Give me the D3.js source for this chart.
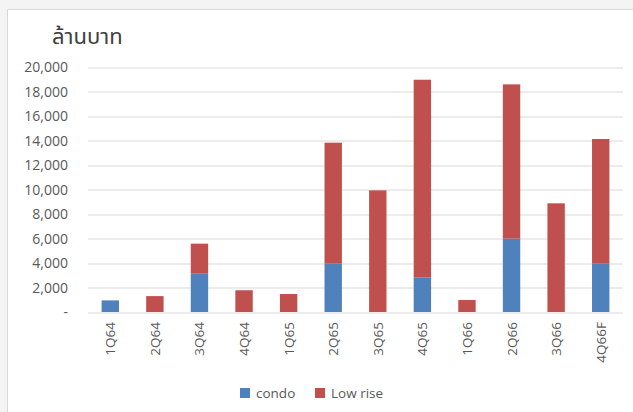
<!DOCTYPE html>
<html>
<head>
<meta charset="utf-8">
<script src="https://cdn.jsdelivr.net/npm/d3@7"></script>
<style>
  body { margin: 0; background: #f4f4f4; }
  svg { display: block; font-family: "Noto Sans Thai", "Noto Sans", "Open Sans", sans-serif; }
</style>
</head>
<body>
<div id="chart"></div>
<script>
const quarters = ["1Q64", "2Q64", "3Q64", "4Q64", "1Q65", "2Q65", "3Q65", "4Q65", "1Q66", "2Q66", "3Q66", "4Q66F"]
const condo   = [950, 0, 3130, 0, 0, 3950, 0, 2810, 0, 6000, 0, 3950]
const lowRise = [0, 1300, 2460, 1780, 1470, 9900, 9950, 16190, 980, 12620, 8890, 10200]
const yTicks = [0, 2000, 4000, 6000, 8000, 10000, 12000, 14000, 16000, 18000, 20000]
const seriesNames = ["condo", "Low rise"]
const colors = ["#4f81bd", "#c0504d"]

const width = 633
const height = 412
const margin = { top: 67.5, right: 10, bottom: 100, left: 88 }
const plotW = 623 - margin.left
const plotH = 312 - margin.top

let svg = d3.select("#chart")
    .append("svg")
    .attr("width", width)
    .attr("height", height)

// chart frame
svg.append("rect")
    .attr("x", 7.5)
    .attr("y", 9.5)
    .attr("width", width)
    .attr("height", height)
    .attr("fill", "#fff")
    .attr("stroke", "#d9d9d9")

svg.append("text")
    .attr("x", 52)
    .attr("y", 44)
    .attr("font-size", 22)
    .attr("fill", "#404040")
    .text("ล้านบาท")

let g = svg.append("g")
    .attr("transform", "translate(" + margin.left + "," + margin.top + ")")

const x = d3.scaleBand()
    .domain(quarters)
    .range([0, plotW])
    .paddingInner(0.61)
    .paddingOuter(0.305)

const y = d3.scaleLinear()
    .domain([0, 20000])
    .range([plotH, 0])

// gridlines
g.append("g")
    .selectAll("line")
    .data(yTicks)
    .join("line")
    .attr("x1", 0)
    .attr("x2", plotW)
    .attr("y1", d => Math.round(y(d)) + 0.5)
    .attr("y2", d => Math.round(y(d)) + 0.5)
    .attr("stroke", "#d9d9d9")

const yAxis = g.append("g")
    .call(d3.axisLeft(y)
        .tickValues(yTicks)
        .tickSize(0)
        .tickPadding(20)
        .tickFormat(d => d === 0 ? "-" : d3.format(",")(d)))
yAxis.select(".domain").remove()
yAxis.selectAll("text")
    .attr("font-size", 14)
    .attr("fill", "#595959")
    .style("font-family", "'Open Sans', sans-serif")

const stacked = d3.stack()
    .keys([0, 1])
    .value((d, k) => k === 0 ? condo[d] : lowRise[d])(quarters.map((q, i) => i))

g.selectAll("g.series")
    .data(stacked)
    .join("g")
    .attr("class", "series")
    .attr("fill", (d, i) => colors[i])
    .selectAll("rect")
    .data(d => d)
    .join("rect")
    .attr("x", d => x(quarters[d.data]))
    .attr("width", x.bandwidth())
    .attr("y", d => y(d[1]))
    .attr("height", d => y(d[0]) - y(d[1]))

const xAxis = g.append("g")
    .attr("transform", "translate(0," + plotH + ")")
    .call(d3.axisBottom(x).tickSize(0))
xAxis.select(".domain").remove()
xAxis.selectAll("text")
    .attr("font-size", 13.5)
    .attr("fill", "#595959")
    .style("font-family", "'Open Sans', sans-serif")
    .attr("transform", "rotate(-90)")
    .attr("text-anchor", "end")
    .attr("x", -10)
    .attr("y", 0)
    .attr("dy", null)
    .attr("dominant-baseline", "central")

// legend
const legendX = [240, 315]
let legend = svg.append("g")
    .selectAll("g")
    .data(seriesNames)
    .join("g")
    .attr("transform", (d, i) => "translate(" + legendX[i] + ",388)")
legend.append("rect")
    .attr("width", 10)
    .attr("height", 10)
    .attr("fill", (d, i) => colors[i])
legend.append("text")
    .attr("x", 16)
    .attr("y", 10)
    .attr("font-size", 13.5)
    .attr("fill", "#595959")
    .style("font-family", "'Open Sans', sans-serif")
    .text(d => d)
</script>
</body>
</html>
